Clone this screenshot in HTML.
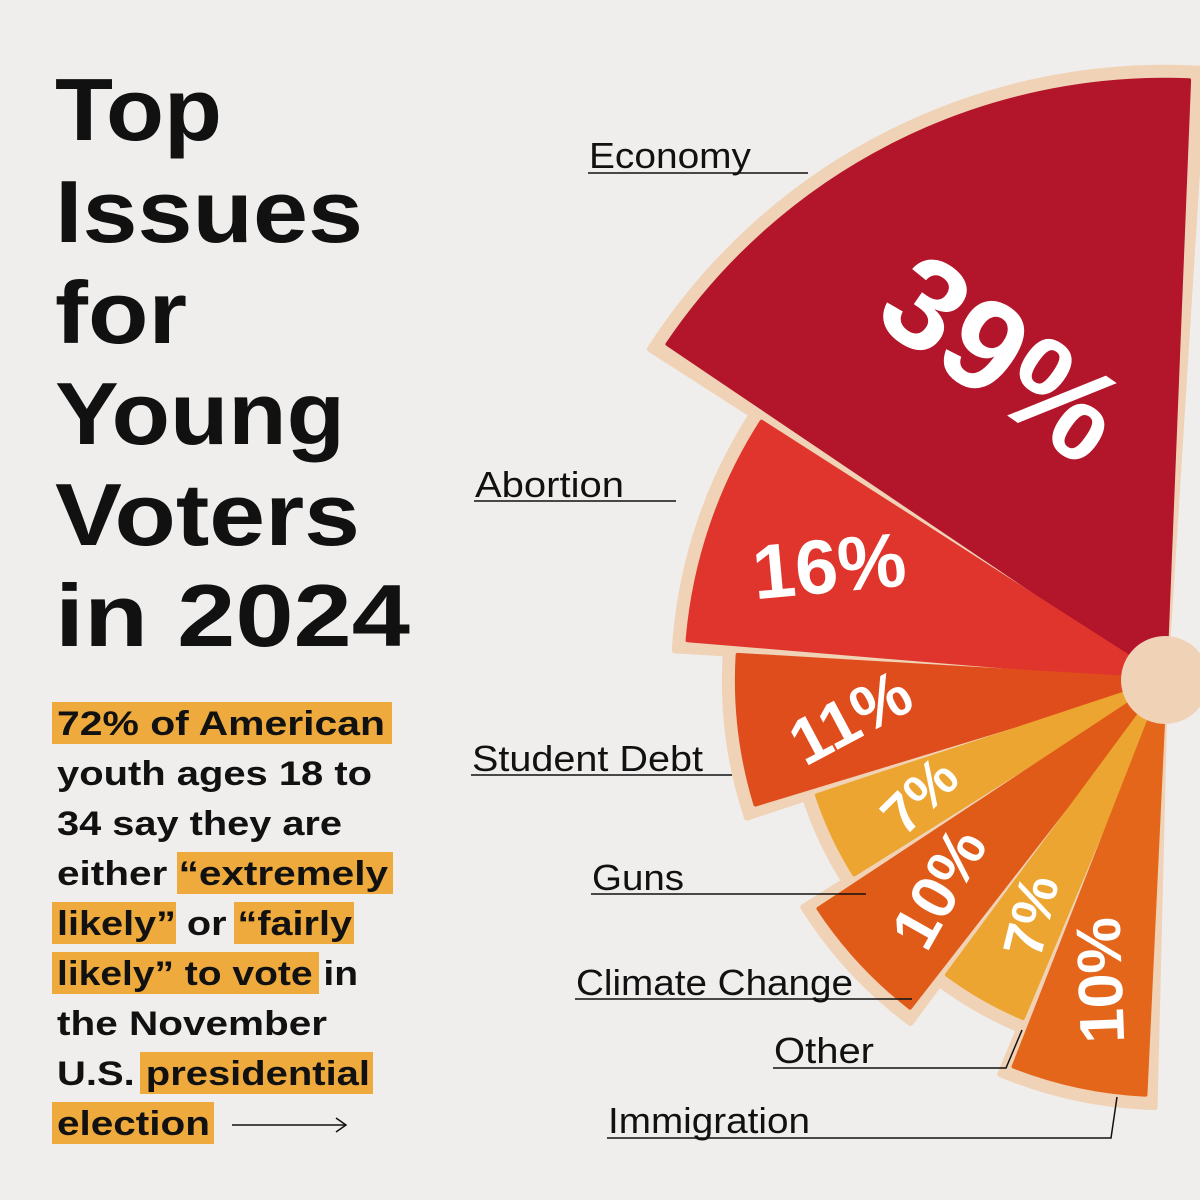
<!DOCTYPE html>
<html><head><meta charset="utf-8"><style>
html,body{margin:0;padding:0;background:#efeeec;}
svg{display:block;font-family:"Liberation Sans",sans-serif;}
</style></head><body>
<svg id="chart" width="1200" height="1200" viewBox="0 0 1200 1200">
<rect x="0" y="0" width="1200" height="1200" fill="#efeeec"/>
<g font-weight="bold" font-size="88" fill="#111">
<text x="55" y="140" textLength="167" lengthAdjust="spacingAndGlyphs">Top</text>
<text x="55" y="242" textLength="308" lengthAdjust="spacingAndGlyphs">Issues</text>
<text x="55" y="343" textLength="132" lengthAdjust="spacingAndGlyphs">for</text>
<text x="55" y="444" textLength="290" lengthAdjust="spacingAndGlyphs">Young</text>
<text x="55" y="545" textLength="305" lengthAdjust="spacingAndGlyphs">Voters</text>
<text x="55" y="646" textLength="355" lengthAdjust="spacingAndGlyphs">in 2024</text>
</g>
<g fill="#eeaa3c">
<rect x="52" y="702" width="340" height="42"/>
<rect x="177" y="852" width="216" height="42"/>
<rect x="52" y="902" width="124" height="42"/>
<rect x="234" y="902" width="120" height="42"/>
<rect x="52" y="952" width="267" height="42"/>
<rect x="140" y="1052" width="233" height="42"/>
<rect x="52" y="1102" width="162" height="42"/>
</g>
<g font-weight="bold" font-size="34" fill="#111">
<text x="57" y="735" textLength="328" lengthAdjust="spacingAndGlyphs">72% of American</text>
<text x="57" y="785" textLength="315" lengthAdjust="spacingAndGlyphs">youth ages 18 to</text>
<text x="57" y="835" textLength="285" lengthAdjust="spacingAndGlyphs">34 say they are</text>
<text x="57" y="885" textLength="331" lengthAdjust="spacingAndGlyphs">either “extremely</text>
<text x="57" y="935" textLength="295" lengthAdjust="spacingAndGlyphs">likely” or “fairly</text>
<text x="57" y="985" textLength="301" lengthAdjust="spacingAndGlyphs">likely” to vote in</text>
<text x="57" y="1035" textLength="270" lengthAdjust="spacingAndGlyphs">the November</text>
<text x="57" y="1085" textLength="313" lengthAdjust="spacingAndGlyphs">U.S. presidential</text>
<text x="57" y="1135" textLength="153" lengthAdjust="spacingAndGlyphs">election</text>
</g>
<g stroke="#111" stroke-width="1.5" fill="none">
<line x1="232" y1="1125" x2="346" y2="1125"/><polyline points="336,1118 346,1125 336,1132"/>
</g>
<g id="wedges"></g>
<g font-size="36" fill="#111" stroke="#111">
<g stroke-width="1.5" fill="none">
<line x1="588" y1="173" x2="808" y2="173"/>
<line x1="474" y1="501" x2="676" y2="501"/>
<line x1="471" y1="775" x2="732" y2="775"/>
<line x1="591" y1="894" x2="866" y2="894"/>
<line x1="575" y1="999" x2="912" y2="999"/>
<polyline points="773,1068 1006,1068 1022,1030"/>
<polyline points="607,1138 1111,1138 1117,1097"/>
</g>
<g stroke="none">
<text x="589" y="168" textLength="162" lengthAdjust="spacingAndGlyphs">Economy</text>
<text x="475" y="497" textLength="149" lengthAdjust="spacingAndGlyphs">Abortion</text>
<text x="472" y="771" textLength="231" lengthAdjust="spacingAndGlyphs">Student Debt</text>
<text x="592" y="890" textLength="92" lengthAdjust="spacingAndGlyphs">Guns</text>
<text x="576" y="995" textLength="277" lengthAdjust="spacingAndGlyphs">Climate Change</text>
<text x="774" y="1063" textLength="100" lengthAdjust="spacingAndGlyphs">Other</text>
<text x="608" y="1133" textLength="202" lengthAdjust="spacingAndGlyphs">Immigration</text>
</g>
</g>
</svg>
<script>
const categories = ["Economy","Abortion","Student Debt","Guns","Climate Change","Other","Immigration"];
const values = [39,16,11,7,10,7,10];
const colors = ["#b3152a","#e0352c","#e04d1d","#eca530","#e05a18","#eca530","#e4661a"];
const CX=1165, CY=680, START=87, END=268;
const powSum = values.reduce((s,v)=>s+Math.pow(v,0.8),0);
function angleSpan(v){ return Math.pow(v,0.8)/powSum*(END-START); }
function radius(v){ return 102+136*Math.log(v); }
function fontSize(v){ return 40+2.3*v; }
function pt(a,r){ const t=a*Math.PI/180; return [CX+r*Math.cos(t), CY-r*Math.sin(t)]; }
function wedge(a0,a1,r){
  const p0=pt(a0,r), p1=pt(a1,r);
  return `M${CX},${CY} L${p0[0]},${p0[1]} A${r},${r} 0 0 1 ${p1[0]},${p1[1]} Z`;
}
const g=document.getElementById('wedges');
const NS="http://www.w3.org/2000/svg";
let a=START;
const halos=document.createElementNS(NS,'g');
const fills=document.createElementNS(NS,'g');
g.appendChild(halos); g.appendChild(fills);
values.forEach((v,i)=>{
  const span=angleSpan(v), r=radius(v);
  const a0=a+span, a1=a;
  const h=document.createElementNS(NS,'path');
  
  
  h.setAttribute('d',wedge(a0+0.6,a1-0.6,r+12));
  h.setAttribute('fill','#f0d2b6');
  h.setAttribute('stroke','#f0d2b6'); h.setAttribute('stroke-width','6'); h.setAttribute('stroke-linejoin','round');
  halos.appendChild(h);
  const p=document.createElementNS(NS,'path');
  
  
  p.setAttribute('d',wedge(a0-0.7,a1+0.7,r));
  p.setAttribute('fill',colors[i]);
  p.setAttribute('stroke',colors[i]); p.setAttribute('stroke-width','4'); p.setAttribute('stroke-linejoin','round');
  fills.appendChild(p);
  const mid=a+span/2;
  const tr=r*(v>30?0.6:0.74);
  const c=pt(mid,tr);
  const t=document.createElementNS(NS,'text');
  
  
  t.setAttribute('x',c[0]); t.setAttribute('y',c[1]);
  t.setAttribute('text-anchor','middle'); t.setAttribute('dominant-baseline','central');
  t.setAttribute('fill','#fff'); t.setAttribute('font-weight','bold');
  t.setAttribute('font-size', String(fontSize(v)));
  t.setAttribute('transform',`rotate(${(180-mid)*0.9-22} ${c[0]} ${c[1]})`);
  t.textContent=v+'%';
  fills.appendChild(t);
  a+=span;
});
const cc=document.createElementNS(NS,'circle');


cc.setAttribute('cx',CX); cc.setAttribute('cy',CY); cc.setAttribute('r',44); cc.setAttribute('fill','#f0d2b6');
g.appendChild(cc);
</script>
</body></html>
